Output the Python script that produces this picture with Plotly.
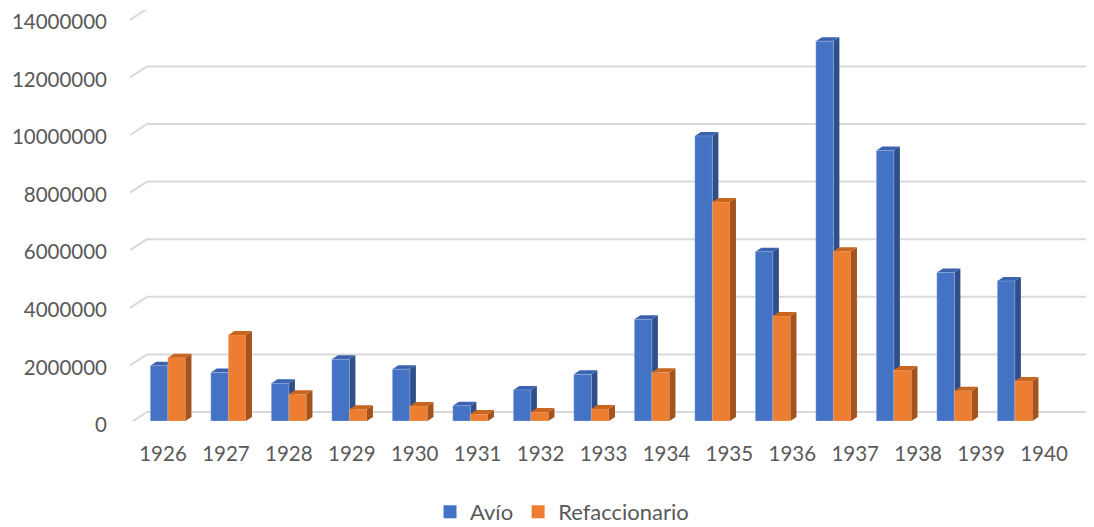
import plotly.graph_objects as go

# datos
anios = ['1926', '1927', '1928', '1929', '1930', '1931', '1932', '1933',
         '1934', '1935', '1936', '1937', '1938', '1939', '1940']
avio = [1920000, 1680000, 1310000, 2140000, 1800000, 530000, 1080000, 1620000,
        3530000, 9900000, 5880000, 13190000, 9390000, 5160000, 4860000]
refaccionario = [2200000, 2990000, 930000, 410000, 520000, 240000, 310000, 420000,
                 1690000, 7600000, 3650000, 5890000, 1770000, 1050000, 1390000]
y_ticks = [0, 2000000, 4000000, 6000000, 8000000, 10000000, 12000000, 14000000]

# la pagina tiene 8px de margen en el body
OFF = 8
W, H = 1094 - OFF, 527 - OFF
L, R, T, B = 130 - OFF, 4, 10 - OFF, 106
plot_w = W - L - R
plot_h = H - T - B

# escala de las barras (cara frontal)
px_x = 60.5          # px por categoria
px_y = 28.8 / 1e6    # px por unidad
x_start = -(167.9 - 130) / px_x
x_end = x_start + plot_w / px_x
y_end = plot_h / px_y

# escala de las etiquetas de categoria (suelo frontal, perspectiva)
px_x2 = 881 / 14
x2_start = -(163 - 130) / px_x2
x2_end = x2_start + plot_w / px_x2

BW = 0.29                 # ancho de barra
DX = 6 / px_x             # profundidad 3d
DY = 4 / px_y

azul, azul_lado, azul_top = '#4472C4', '#2F4F88', '#3A62AE'
nar, nar_lado, nar_top = '#ED7D31', '#A4531C', '#C8651F'

idx = list(range(len(anios)))

fig = go.Figure()
fig.add_trace(go.Bar(x=idx, y=avio, name='Avío', width=BW, offset=-BW, showlegend=False,
                     marker=dict(color=azul, line=dict(color='rgba(180,200,240,0.6)', width=0.6)),
                     hoverinfo='skip'))
fig.add_trace(go.Bar(x=idx, y=refaccionario, name='Refaccionario', width=BW, offset=0, showlegend=False,
                     marker=dict(color=nar, line=dict(color='rgba(250,200,160,0.6)', width=0.6)),
                     hoverinfo='skip'))
# entradas de leyenda con cuadrados grandes
fig.add_trace(go.Scatter(x=[None], y=[None], mode='markers', name='Avío',
                         marker=dict(symbol='square', size=13, color=azul)))
fig.add_trace(go.Scatter(x=[None], y=[None], mode='markers', name='Refaccionario',
                         marker=dict(symbol='square', size=13, color=nar)))
# traza invisible para el eje de etiquetas
fig.add_trace(go.Scatter(x=idx, y=[0] * len(idx), xaxis='x2', mode='none',
                         showlegend=False, hoverinfo='skip'))

shapes = []
# lineas de cuadricula en la pared del fondo
g_back = 9 / px_y
g_front = -2 / px_y
for v in y_ticks:
    shapes.append(dict(type='line', xref='paper', yref='y', x0=17 / plot_w, x1=(1092 - 130) / plot_w,
                       y0=v + g_back, y1=v + g_back, line=dict(color='#D9D9D9', width=2), layer='below'))
    shapes.append(dict(type='line', xref='paper', yref='y', x0=0, x1=17 / plot_w,
                       y0=v + g_front, y1=v + g_back, line=dict(color='#D9D9D9', width=2), layer='below'))


def caras(xl, xr, v, c_lado, c_top, layer):
    lado = 'M %f,0 L %f,%f L %f,%f L %f,%f Z' % (xr, xr + DX, DY, xr + DX, v + DY, xr, v)
    top = 'M %f,%f L %f,%f L %f,%f L %f,%f Z' % (xl, v, xl + DX, v + DY, xr + DX, v + DY, xr, v)
    return [dict(type='path', xref='x', yref='y', path=lado, fillcolor=c_lado, line=dict(width=0), layer=layer),
            dict(type='path', xref='x', yref='y', path=top, fillcolor=c_top, line=dict(width=0), layer=layer)]


for i in idx:
    shapes += caras(i - BW, i, avio[i], azul_lado, azul_top, 'below')
for i in idx:
    shapes += caras(i, i + BW, refaccionario[i], nar_lado, nar_top, 'above')

fuente = dict(family='Lato', size=20.5, color='#595959')

fig.update_layout(
    width=W, height=H,
    margin=dict(l=L, r=R, t=T, b=B, autoexpand=False),
    paper_bgcolor='white', plot_bgcolor='rgba(0,0,0,0)',
    font=fuente,
    barmode='overlay',
    shapes=shapes,
    xaxis=dict(range=[x_start, x_end], showticklabels=False, showgrid=False,
               zeroline=False, showline=False, automargin=False),
    xaxis2=dict(range=[x2_start, x2_end], overlaying='x', anchor='y', side='bottom',
                tickvals=idx, ticktext=anios, showgrid=False, zeroline=False, showline=False,
                ticks='', ticklabelstandoff=18, tickfont=fuente, automargin=False),
    yaxis=dict(range=[0, y_end], tickvals=y_ticks, ticktext=[str(v) for v in y_ticks],
               showgrid=False, zeroline=False, showline=False, ticks='', automargin=False,
               ticklabelstandoff=22, ticklabelshift=4, tickfont=fuente),
    legend=dict(orientation='h', x=(562 - 130) / plot_w, xanchor='center',
                y=(421 - 512) / plot_h, yanchor='middle',
                font=dict(family='Lato', size=22, color='#595959'),
                itemwidth=30, traceorder='normal'),
    showlegend=True,
)

fig.write_html("out.html")
